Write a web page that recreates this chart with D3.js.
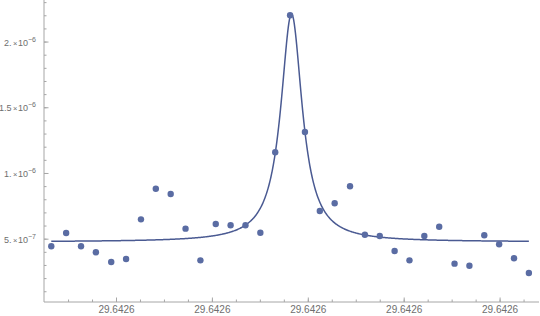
<!DOCTYPE html>
<html>
<head>
<meta charset="utf-8">
<script src="https://cdn.jsdelivr.net/npm/d3@7"></script>
<style>
  body { margin: 0; background: #fff; }
  svg { display: block; font-family: "Liberation Sans", Arial, sans-serif; }
</style>
</head>
<body>
<div id="chart"></div>
<script>
// measured points
const xs = [
  29.6425464, 29.6425495, 29.6425526, 29.6425557, 29.6425589, 29.6425620,
  29.6425651, 29.6425682, 29.6425713, 29.6425744, 29.6425775, 29.6425807,
  29.6425838, 29.6425869, 29.6425900, 29.6425931, 29.6425962, 29.6425993,
  29.6426024, 29.6426055, 29.6426087, 29.6426118, 29.6426149, 29.6426180,
  29.6426211, 29.6426242, 29.6426273, 29.6426305, 29.6426336, 29.6426367,
  29.6426398, 29.6426429, 29.6426460
];
const ys = [
  0.446e-6, 0.547e-6, 0.446e-6, 0.400e-6, 0.326e-6, 0.349e-6,
  0.651e-6, 0.884e-6, 0.844e-6, 0.580e-6, 0.339e-6, 0.616e-6,
  0.606e-6, 0.606e-6, 0.549e-6, 1.161e-6, 2.204e-6, 1.316e-6,
  0.715e-6, 0.773e-6, 0.903e-6, 0.534e-6, 0.524e-6, 0.410e-6,
  0.339e-6, 0.524e-6, 0.595e-6, 0.314e-6, 0.298e-6, 0.530e-6,
  0.461e-6, 0.355e-6, 0.243e-6
];

// lorentzian fit: baseline, amplitude, centre, half width
const fitParams = [0.479e-6, 1.735e-6, 29.6425965, 2.711e-6];

const xTicks = [29.64256, 29.64258, 29.64260, 29.64262, 29.64264];
const yTicks = [0.5e-6, 1.0e-6, 1.5e-6, 2.0e-6];
const yTickLabels = [["5.", "−7"], ["1.", "−6"], ["1.5", "−6"], ["2.", "−6"]];

const width = 540, height = 316;

const svg = d3.select("#chart").append("svg")
    .attr("width", width)
    .attr("height", height);

const x = d3.scaleLinear()
    .domain([xTicks[0], xTicks[1]])
    .range([116.5, 212.4]);
const y = d3.scaleLinear()
    .domain([0.022e-6, 2.32e-6])
    .range([302, 0]);

const axisColor = "#a6a6a6";
const labelColor = "#6e6e6e";
const x0 = x.invert(44), x1 = x.invert(539);
const yBase = y.domain()[0];

// axis lines
svg.append("line")
    .attr("x1", x(x0)).attr("x2", x(x1))
    .attr("y1", y(yBase)).attr("y2", y(yBase))
    .attr("stroke", axisColor).attr("stroke-width", 1);
svg.append("line")
    .attr("x1", x(x0)).attr("x2", x(x0))
    .attr("y1", y(yBase)).attr("y2", 0)
    .attr("stroke", axisColor).attr("stroke-width", 1);

// x ticks (major + 3 minor between)
const step = xTicks[1] - xTicks[0];
const xMinor = d3.range(-12, 30).map(k => xTicks[0] + k * step / 4)
    .filter(v => x(v) > x(x0) + 2 && x(v) < x(x1));
svg.selectAll(".xminor").data(xMinor).enter().append("line")
    .attr("x1", d => x(d)).attr("x2", d => x(d))
    .attr("y1", y(yBase)).attr("y2", y(yBase) - 2.5)
    .attr("stroke", axisColor);
svg.selectAll(".xmajor").data(xTicks).enter().append("line")
    .attr("x1", d => x(d)).attr("x2", d => x(d))
    .attr("y1", y(yBase)).attr("y2", y(yBase) - 4.5)
    .attr("stroke", axisColor);
svg.selectAll(".xlab").data(xTicks).enter().append("text")
    .attr("x", d => x(d))
    .attr("y", 313)
    .attr("text-anchor", "middle")
    .attr("font-size", 10)
    .attr("fill", labelColor)
    .text(d3.format(".6~r"));

// y ticks
const yMinor = d3.range(1, 24).map(k => k * 0.1e-6)
    .filter(v => y(v) > 1);
svg.selectAll(".yminor").data(yMinor).enter().append("line")
    .attr("x1", x(x0)).attr("x2", x(x0) + 2.5)
    .attr("y1", d => y(d)).attr("y2", d => y(d))
    .attr("stroke", axisColor);
svg.selectAll(".ymajor").data(yTicks).enter().append("line")
    .attr("x1", x(x0)).attr("x2", x(x0) + 4.5)
    .attr("y1", d => y(d)).attr("y2", d => y(d))
    .attr("stroke", axisColor);
const ylab = svg.selectAll(".ylab").data(yTicks).enter().append("text")
    .attr("x", 36)
    .attr("y", d => y(d) + 3.5)
    .attr("text-anchor", "end")
    .attr("font-size", 9)
    .attr("fill", labelColor);
ylab.append("tspan").text((d, i) => yTickLabels[i][0]);
ylab.append("tspan").attr("dx", 1.5).attr("font-size", 7.5).text("×");
ylab.append("tspan").attr("dx", 0.5).text("10");
ylab.append("tspan")
    .attr("dy", -4)
    .attr("font-size", 7)
    .text((d, i) => yTickLabels[i][1]);

// fitted curve
const lorentz = v => fitParams[0] + fitParams[1] / (1 + Math.pow((v - fitParams[2]) / fitParams[3], 2));
const curveX = d3.range(0, 801).map(k => xs[0] + (xs[xs.length - 1] - xs[0]) * k / 800);
svg.append("path")
    .datum(curveX)
    .attr("fill", "none")
    .attr("stroke", "#4a5a92")
    .attr("stroke-width", 1.5)
    .attr("d", d3.line().x(d => x(d)).y(d => y(lorentz(d))));

// points
svg.selectAll(".pt").data(xs).enter().append("circle")
    .attr("cx", d => x(d))
    .attr("cy", (d, i) => y(ys[i]))
    .attr("r", 3.2)
    .attr("fill", "#5a6ca3");
</script>
</body>
</html>
